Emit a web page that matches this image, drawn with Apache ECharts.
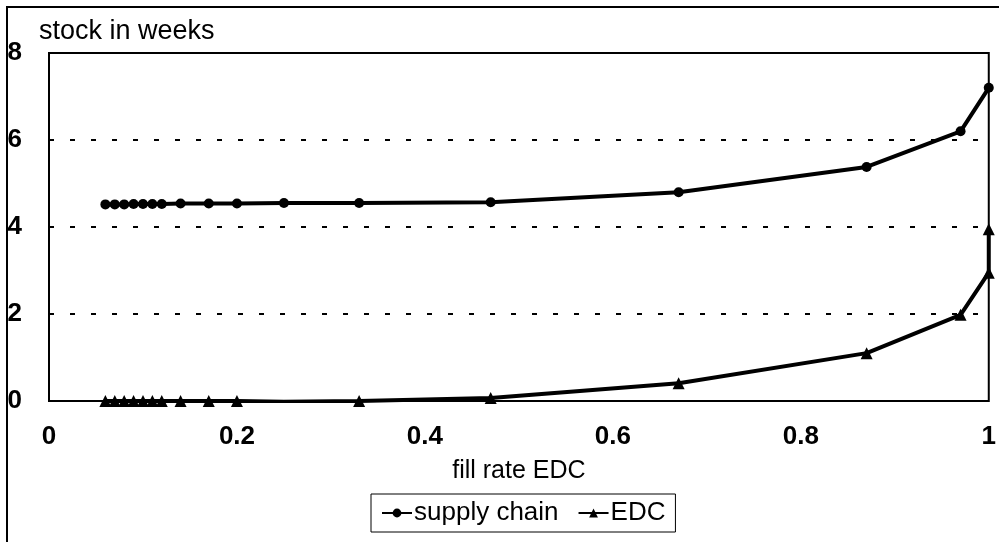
<!DOCTYPE html>
<html>
<head>
<meta charset="utf-8">
<script src="https://cdn.jsdelivr.net/npm/echarts@6/dist/echarts.min.js"></script>
<style>
  html, body { margin: 0; padding: 0; background: #fff; }
  #main { width: 999px; height: 542px; }
</style>
</head>
<body>
<div id="main"></div>
<script>
// fill rate EDC (x) for both series
var fillRate = [0.06, 0.07, 0.08, 0.09, 0.10, 0.11, 0.12, 0.14, 0.17, 0.20, 0.25, 0.33, 0.47, 0.67, 0.87, 0.97, 1.0];
var supplyChain = [4.52, 4.52, 4.52, 4.53, 4.53, 4.53, 4.53, 4.54, 4.54, 4.54, 4.55, 4.55, 4.57, 4.80, 5.38, 6.20, 7.20];
var edc = [0, 0, 0, 0, 0, 0, 0, 0, 0, 0, -0.02, 0, 0.07, 0.41, 1.10, 1.98, 2.95];
// extra EDC point at the right edge
var edcEndX = [1.0];
var edcEndY = [3.95];

function pairs(xs, ys) {
    var out = [];
    for (var i = 0; i < xs.length; i++) out.push([xs[i], ys[i]]);
    return out;
}

var chart = echarts.init(document.getElementById('main'));
var font = 'Liberation Sans, Arial, sans-serif';

chart.setOption({
    animation: false,
    backgroundColor: '#fff',
    title: {
        text: 'stock in weeks',
        left: 34, top: 13,
        textStyle: { fontFamily: font, fontSize: 27, fontWeight: 'normal', color: '#000' }
    },
    grid: {
        left: 49, top: 53, width: 946, height: 348,
        show: true, borderColor: '#000', borderWidth: 2, containLabel: false
    },
    legend: {
        top: 494, left: 371,
        data: ['supply chain', 'EDC'],
        borderColor: '#000', borderWidth: 1, padding: [6, 10, 6, 10],
        itemWidth: 30, itemHeight: 11, itemGap: 19,
        textStyle: { fontFamily: font, fontSize: 26, color: '#000', padding: [0, 0, 0, -3] }
    },
    xAxis: {
        type: 'value', min: 0, max: 1, interval: 0.2,
        name: 'fill rate EDC', nameLocation: 'middle', nameGap: 58,
        nameTextStyle: { fontFamily: font, fontSize: 25, color: '#000' },
        axisLine: { show: false }, axisTick: { show: false },
        splitLine: { show: false },
        axisLabel: { margin: 23, fontFamily: font, fontSize: 26, fontWeight: 'bold', color: '#000',
            formatter: function (v) { return String(+v.toFixed(1)); } }
    },
    yAxis: {
        type: 'value', min: 0, max: 8, interval: 2,
        axisLine: { show: false }, axisTick: { show: false },
        splitLine: { show: true, lineStyle: { color: '#000', width: 2, type: [5, 16] } },
        axisLabel: { margin: 27, fontFamily: font, fontSize: 26, fontWeight: 'bold', color: '#000' }
    },
    graphic: [{
        type: 'rect', silent: true,
        shape: { x: 7, y: 7, width: 1000, height: 560 },
        style: { fill: 'none', stroke: '#000', lineWidth: 2 }
    }],
    series: [{
        name: 'supply chain', type: 'line',
        data: pairs(fillRate, supplyChain),
        symbol: 'circle', symbolSize: 10,
        lineStyle: { color: '#000', width: 4 },
        itemStyle: { color: '#000' }
    }, {
        name: 'EDC', type: 'line',
        data: pairs(fillRate, edc).concat(pairs(edcEndX, edcEndY)),
        symbol: 'triangle', symbolSize: 12,
        lineStyle: { color: '#000', width: 4 },
        itemStyle: { color: '#000' }
    }]
});
</script>
</body>
</html>
